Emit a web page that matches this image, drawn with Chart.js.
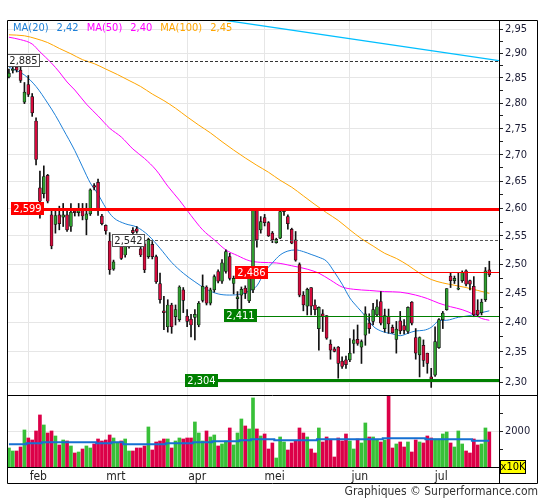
<!DOCTYPE html>
<html lang="nl">
<head>
<meta charset="utf-8">
<title>Koersgrafiek</title>
<script src="https://cdn.jsdelivr.net/npm/chart.js@4.4.1/dist/chart.umd.min.js"></script>
<style>
  html, body { margin: 0; padding: 0; background: #fff; }
  #grafiek { display: block; }
</style>
</head>
<body>
<canvas id="grafiek" width="545" height="500"></canvas>
<script>
// dagkoersen, oudste eerst (125 handelsdagen)
const openK = [
  2.852, 2.865, 2.872, 2.866, 2.802, 2.837, 2.813, 2.765, 2.638, 2.627,
  2.661, 2.588, 2.571, 2.588, 2.584, 2.588, 2.567, 2.595, 2.592, 2.598,
  2.580, 2.590, 2.642, 2.648, 2.586, 2.569, 2.541, 2.491, 2.536, 2.531,
  2.516, 2.531, 2.560, 2.563, 2.527, 2.536, 2.513, 2.535, 2.513, 2.466,
  2.419, 2.392, 2.429, 2.409, 2.404, 2.455, 2.410, 2.405, 2.408, 2.395,
  2.437, 2.460, 2.432, 2.455, 2.487, 2.470, 2.487, 2.513, 2.466, 2.440,
  2.446, 2.458, 2.436, 2.455, 2.598, 2.561, 2.583, 2.574, 2.555, 2.538,
  2.546, 2.594, 2.585, 2.562, 2.543, 2.499, 2.446, 2.427, 2.459, 2.429,
  2.389, 2.414, 2.411, 2.363, 2.355, 2.358, 2.335, 2.337, 2.337, 2.364,
  2.371, 2.358, 2.378, 2.398, 2.401, 2.412, 2.435, 2.389, 2.409, 2.391,
  2.371, 2.402, 2.394, 2.384, 2.434, 2.374, 2.345, 2.361, 2.348, 2.309,
  2.312, 2.357, 2.404, 2.421, 2.479, 2.471, 2.456, 2.471, 2.488, 2.471,
  2.461, 2.420, 2.416, 2.438, 2.490
];
const hoogK = [
  2.868, 2.878, 2.875, 2.874, 2.841, 2.855, 2.819, 2.771, 2.669, 2.679,
  2.663, 2.598, 2.598, 2.604, 2.609, 2.598, 2.609, 2.599, 2.609, 2.609,
  2.609, 2.636, 2.646, 2.654, 2.589, 2.570, 2.556, 2.507, 2.546, 2.534,
  2.536, 2.548, 2.565, 2.567, 2.544, 2.540, 2.546, 2.540, 2.516, 2.484,
  2.444, 2.438, 2.432, 2.429, 2.462, 2.459, 2.421, 2.413, 2.421, 2.435,
  2.481, 2.462, 2.458, 2.481, 2.490, 2.508, 2.525, 2.519, 2.479, 2.452,
  2.460, 2.462, 2.480, 2.600, 2.600, 2.585, 2.589, 2.576, 2.558, 2.546,
  2.596, 2.599, 2.588, 2.564, 2.558, 2.502, 2.452, 2.458, 2.459, 2.438,
  2.426, 2.421, 2.411, 2.370, 2.358, 2.359, 2.342, 2.343, 2.372, 2.387,
  2.395, 2.370, 2.426, 2.414, 2.432, 2.438, 2.452, 2.422, 2.422, 2.395,
  2.401, 2.418, 2.404, 2.426, 2.435, 2.389, 2.375, 2.370, 2.348, 2.323,
  2.392, 2.406, 2.418, 2.457, 2.484, 2.479, 2.484, 2.488, 2.490, 2.472,
  2.478, 2.438, 2.439, 2.494, 2.505
];
const laagK = [
  2.850, 2.860, 2.862, 2.841, 2.799, 2.813, 2.774, 2.681, 2.582, 2.619,
  2.610, 2.527, 2.555, 2.561, 2.567, 2.558, 2.558, 2.586, 2.586, 2.579,
  2.552, 2.587, 2.634, 2.587, 2.570, 2.553, 2.482, 2.489, 2.532, 2.508,
  2.512, 2.528, 2.548, 2.555, 2.513, 2.485, 2.510, 2.509, 2.466, 2.432,
  2.387, 2.383, 2.381, 2.395, 2.401, 2.416, 2.392, 2.375, 2.370, 2.392,
  2.434, 2.429, 2.429, 2.451, 2.467, 2.466, 2.484, 2.472, 2.448, 2.415,
  2.412, 2.440, 2.433, 2.450, 2.530, 2.555, 2.568, 2.549, 2.538, 2.537,
  2.545, 2.587, 2.562, 2.536, 2.505, 2.443, 2.419, 2.412, 2.412, 2.412,
  2.353, 2.384, 2.371, 2.338, 2.350, 2.307, 2.323, 2.323, 2.334, 2.348,
  2.361, 2.331, 2.361, 2.381, 2.395, 2.409, 2.395, 2.383, 2.381, 2.381,
  2.348, 2.380, 2.380, 2.381, 2.395, 2.338, 2.309, 2.326, 2.315, 2.292,
  2.310, 2.356, 2.389, 2.420, 2.459, 2.466, 2.455, 2.468, 2.462, 2.455,
  2.409, 2.409, 2.412, 2.435, 2.478
];
const slotK = [
  2.860, 2.868, 2.866, 2.845, 2.822, 2.817, 2.781, 2.691, 2.613, 2.659,
  2.613, 2.532, 2.587, 2.572, 2.588, 2.561, 2.593, 2.592, 2.596, 2.586,
  2.590, 2.634, 2.639, 2.598, 2.572, 2.559, 2.490, 2.504, 2.542, 2.510,
  2.531, 2.545, 2.556, 2.558, 2.516, 2.490, 2.544, 2.513, 2.469, 2.438,
  2.416, 2.429, 2.392, 2.421, 2.460, 2.437, 2.401, 2.395, 2.413, 2.432,
  2.461, 2.432, 2.455, 2.478, 2.470, 2.502, 2.522, 2.475, 2.475, 2.443,
  2.456, 2.449, 2.476, 2.598, 2.543, 2.576, 2.574, 2.550, 2.543, 2.544,
  2.594, 2.597, 2.572, 2.537, 2.507, 2.446, 2.429, 2.456, 2.427, 2.421,
  2.425, 2.409, 2.373, 2.353, 2.351, 2.331, 2.326, 2.329, 2.348, 2.370,
  2.364, 2.367, 2.414, 2.389, 2.421, 2.426, 2.398, 2.411, 2.397, 2.382,
  2.388, 2.385, 2.386, 2.425, 2.398, 2.348, 2.374, 2.336, 2.331, 2.306,
  2.367, 2.404, 2.415, 2.457, 2.471, 2.475, 2.458, 2.485, 2.465, 2.465,
  2.412, 2.412, 2.434, 2.488, 2.481
];

// volume (x10K) en het gemiddelde volume
const volume = [
  1065, 897, 897, 1121, 2075, 1626, 1514, 2019, 2916, 2355,
  1906, 2019, 1738, 1234, 1514, 1458, 1178, 785, 841, 1009,
  1178, 1065, 1290, 1570, 1458, 1514, 1794, 1626, 1346, 1458,
  1570, 897, 897, 1065, 1065, 1178, 2243, 953, 1402, 1458,
  1570, 1570, 1065, 1458, 1626, 1570, 1626, 1626, 2523, 1906,
  1458, 2019, 1682, 1794, 1178, 1290, 1458, 2187, 1234, 1906,
  2691, 2299, 2131, 3869, 2131, 1738, 1850, 1009, 1346, 505,
  1682, 1402, 953, 1346, 1458, 2187, 1906, 1682, 1009, 785,
  2187, 1402, 1682, 1514, 561, 1626, 1458, 1850, 1458, 1009,
  1570, 1346, 2467, 1682, 1682, 1514, 1402, 1514, 4600, 1065,
  1290, 1402, 1121, 1402, 841, 1514, 1402, 1346, 1738, 1626,
  1570, 1570, 1850, 1962, 1346, 1121, 2019, 1290, 897, 785,
  1570, 1234, 1290, 2187, 1962
];
const volGem = [
  1270, 1270, 1270, 1270, 1270, 1330, 1330, 1330, 1330, 1380,
  1380, 1380, 1380, 1380, 1380, 1380, 1380, 1380, 1380, 1380,
  1380, 1380, 1380, 1330, 1330, 1330, 1330, 1380, 1380, 1380,
  1270, 1270, 1270, 1270, 1270, 1270, 1270, 1270, 1270, 1270,
  1270, 1330, 1330, 1330, 1330, 1330, 1330, 1330, 1380, 1380,
  1380, 1380, 1380, 1440, 1440, 1440, 1440, 1440, 1440, 1440,
  1500, 1500, 1500, 1550, 1550, 1550, 1550, 1550, 1550, 1500,
  1500, 1500, 1500, 1500, 1500, 1500, 1500, 1500, 1500, 1500,
  1550, 1550, 1550, 1550, 1550, 1550, 1550, 1550, 1550, 1550,
  1550, 1550, 1550, 1550, 1550, 1550, 1550, 1610, 1610, 1610,
  1610, 1610, 1610, 1610, 1610, 1610, 1610, 1610, 1550, 1550,
  1550, 1550, 1550, 1550, 1550, 1550, 1550, 1550, 1550, 1550,
  1470, 1470, 1470, 1470, 1470
];

const ma20Dag = [0, 4, 7, 10, 12, 14, 17, 19, 21, 23, 25, 27, 30, 33, 36, 39, 42, 45, 48, 51,
  54, 57, 60, 62, 64, 66, 68, 70, 72, 74, 76, 78, 80, 82, 84, 86, 88, 90, 92, 94,
  96, 99, 101, 103, 105, 107, 109, 111, 113, 116, 119, 122, 124];
const ma20 = [2.872, 2.856, 2.833, 2.800, 2.776, 2.749, 2.708, 2.677, 2.647, 2.626, 2.601, 2.583, 2.572, 2.566, 2.551, 2.528, 2.503, 2.484, 2.469, 2.456,
  2.448, 2.446, 2.448, 2.453, 2.462, 2.486, 2.502, 2.516, 2.523, 2.525, 2.522, 2.517, 2.512, 2.505, 2.486, 2.465, 2.441, 2.425, 2.410, 2.393,
  2.385, 2.380, 2.377, 2.381, 2.385, 2.386, 2.391, 2.402, 2.403, 2.408, 2.411, 2.416, 2.419];
const ma50Dag = [0, 3, 6, 8, 11, 13, 15, 17, 20, 23, 26, 29, 32, 35, 38, 41, 44, 47, 50, 53,
  56, 59, 62, 65, 69, 73, 77, 80, 83, 86, 89, 93, 97, 101, 105, 108, 111, 114, 117, 120, 122, 124];
const ma50 = [2.933, 2.928, 2.919, 2.903, 2.880, 2.862, 2.842, 2.826, 2.798, 2.775, 2.751, 2.734, 2.711, 2.693, 2.671, 2.641, 2.615, 2.587, 2.561, 2.543,
  2.525, 2.515, 2.506, 2.503, 2.502, 2.497, 2.491, 2.484, 2.472, 2.460, 2.456, 2.454, 2.452, 2.451, 2.446, 2.440, 2.432, 2.426, 2.421, 2.413, 2.406, 2.403];
const ma100Dag = [0, 4, 7, 10, 13, 16, 19, 22, 25, 28, 31, 34, 37, 40, 43, 46, 49, 52, 55, 58,
  61, 64, 67, 70, 73, 76, 79, 82, 85, 88, 91, 94, 97, 100, 103, 106, 109, 112, 115, 118, 121, 124];
const ma100 = [2.938, 2.936, 2.930, 2.922, 2.910, 2.899, 2.887, 2.879, 2.868, 2.857, 2.845, 2.833, 2.818, 2.805, 2.790, 2.773, 2.757, 2.742, 2.725, 2.709,
  2.694, 2.680, 2.667, 2.652, 2.639, 2.623, 2.607, 2.592, 2.578, 2.561, 2.545, 2.532, 2.519, 2.510, 2.498, 2.484, 2.473, 2.467, 2.463, 2.459, 2.454, 2.449];

// dalende trendlijn
const trendDag = [30, 126.5];
const trendKoers = [2.999, 2.885];

// horizontale niveaus
const niveaus = [2.885, 2.599, 2.542, 2.486, 2.411, 2.304];

// assen
const maanden = ['feb', 'mrt', 'apr', 'mei', 'jun', 'jul'];
const maandStart = [5, 25, 46, 66, 88, 109];
const koersTicks = [2.30, 2.35, 2.40, 2.45, 2.50, 2.55, 2.60, 2.65, 2.70, 2.75, 2.80, 2.85, 2.90, 2.95];
const tussenTicks = [2.325, 2.375, 2.425, 2.475, 2.525, 2.575, 2.625, 2.675, 2.725, 2.775, 2.825, 2.875, 2.925];
const volumeTicks = [1000, 2000, 3000];

const LETTER = '"DejaVu Sans Condensed", "DejaVu Sans", sans-serif';
const GROEN = '#2f9e2f', ROOD = '#d40a3c';
const VGROEN = '#38c038', VROOD = '#dc0048';
const KLEUR20 = '#1e80d8', KLEUR50 = '#ff00ff', KLEUR100 = '#ffa500';

// stijl per niveau (vanaf = dag waar het label begint)
const niveauStijl = [
  { kleur: '#333', dik: 1, streep: [3, 2], box: '#fff', rand: '#555', tekst: '#222', vanaf: -0.5 },
  { kleur: '#ff0000', dik: 3, box: '#ff0000', tekst: '#fff', vanaf: 0.55 },
  { kleur: '#555', dik: 1, streep: [3, 2], box: '#fff', rand: '#555', tekst: '#222', vanaf: 26.7 },
  { kleur: '#ff0000', dik: 1, box: '#ff0000', tekst: '#fff', vanaf: 58.4 },
  { kleur: '#008000', dik: 1, box: '#008000', tekst: '#fff', vanaf: 55.6 },
  { kleur: '#008000', dik: 3, box: '#008000', tekst: '#fff', vanaf: 45.5 }
];

const stijg = openK.map((o, i) => slotK[i] >= o);
const punten = (dagen, waarden) => dagen.map((d, k) => ({ x: d, y: waarden[k] }));
const komma = (v, n) => v.toFixed(n).replace('.', ',');

const tekenPlugin = {
  id: 'teken',
  beforeDatasetDraw(chart, args) {
    // elk paneel knipt op zijn eigen schaal
    const s = chart.scales[args.meta.yAxisID], a = chart.chartArea, ctx = chart.ctx;
    ctx.save();
    ctx.beginPath();
    ctx.rect(a.left, s.top, a.right - a.left, s.bottom - s.top);
    ctx.clip();
  },
  afterDatasetDraw(chart) {
    chart.ctx.restore();
  },
  afterDatasetsDraw(chart) {
    const ctx = chart.ctx, xs = chart.scales.x, ys = chart.scales.y, a = chart.chartArea;
    ctx.save();
    ctx.font = '11px ' + LETTER;
    niveaus.forEach((n, k) => {
      const st = niveauStijl[k];
      const py = ys.getPixelForValue(n);
      const tekst = komma(n, 3);
      const bx = Math.round(Math.max(a.left, xs.getPixelForValue(st.vanaf)));
      const bw = Math.ceil(ctx.measureText(tekst).width) + 4, bh = 13;
      const ly = st.dik % 2 === 1 ? Math.round(py) + 0.5 : Math.round(py);
      ctx.beginPath();
      ctx.setLineDash(st.streep || []);
      ctx.strokeStyle = st.kleur;
      ctx.lineWidth = st.dik;
      ctx.moveTo(bx + bw, ly);
      ctx.lineTo(a.right, ly);
      ctx.stroke();
      ctx.setLineDash([]);
      const by = Math.round(py - bh / 2);
      ctx.fillStyle = st.box;
      ctx.fillRect(bx, by, bw, bh);
      if (st.rand) {
        ctx.strokeStyle = st.rand;
        ctx.lineWidth = 1;
        ctx.strokeRect(bx + 0.5, by + 0.5, bw - 1, bh - 1);
      }
      ctx.fillStyle = st.tekst;
      ctx.textAlign = 'center';
      ctx.textBaseline = 'middle';
      ctx.fillText(tekst, bx + bw / 2, by + bh / 2 + 0.5);
    });
    ctx.restore();
  },
  afterDraw(chart) {
    const ctx = chart.ctx, a = chart.chartArea, xs = chart.scales.x;
    const ys = chart.scales.y, yv = chart.scales.yv;
    const L = a.left + 0.5, T = a.top + 0.5, R = ys.right - 0.5, B = Math.round(xs.bottom) - 0.5;
    const AX = Math.round(ys.left) + 0.5, SEP = Math.round(yv.top) + 0.5;
    ctx.save();
    ctx.strokeStyle = '#000';
    ctx.lineWidth = 1;
    ctx.beginPath();
    ctx.rect(L, T, R - L, B - T);
    ctx.moveTo(L, SEP); ctx.lineTo(R, SEP);
    ctx.moveTo(AX, T); ctx.lineTo(AX, B);
    ctx.stroke();

    // x10K
    const kx = Math.round(ys.left) + 1, ky = Math.round(a.bottom) - 7;
    ctx.fillStyle = '#ffff00';
    ctx.fillRect(kx, ky, 26, 14);
    ctx.strokeRect(kx + 0.5, ky + 0.5, 25, 13);
    ctx.fillStyle = '#000';
    ctx.font = '11px ' + LETTER;
    ctx.textAlign = 'center';
    ctx.textBaseline = 'middle';
    ctx.fillText('x10K', kx + 13, ky + 7.5);

    // legenda van de gemiddelden
    ctx.textAlign = 'left';
    let x = a.left + 6;
    const ly = a.top + 8;
    [['MA(20)', ma20, KLEUR20], ['MA(50)', ma50, KLEUR50], ['MA(100)', ma100, KLEUR100]].forEach(([naam, reeks, kleur]) => {
      ctx.fillStyle = kleur;
      ctx.fillText(naam, x, ly);
      x += ctx.measureText(naam).width + 8;
      const w = komma(reeks[reeks.length - 1], 2);
      ctx.fillText(w, x, ly);
      x += ctx.measureText(w).width + 8;
    });

    // bron
    ctx.fillStyle = '#333';
    ctx.font = '12px ' + LETTER;
    ctx.textAlign = 'right';
    ctx.fillText('Graphiques © Surperformance.com', ys.right, 492);
    ctx.restore();
  }
};

new Chart(document.getElementById('grafiek'), {
  type: 'bar',
  data: {
    datasets: [
      {
        label: 'lont',
        data: hoogK.map((h, i) => ({ x: i, y: [laagK[i], h] })),
        backgroundColor: '#111',
        barThickness: 1,
        grouped: false,
        yAxisID: 'y',
        order: 1
      },
      {
        label: 'koers',
        data: openK.map((o, i) => ({ x: i, y: [o, slotK[i]] })),
        backgroundColor: stijg.map(s => s ? GROEN : ROOD),
        borderColor: '#111',
        borderWidth: 0.7,
        borderSkipped: false,
        barThickness: 3,
        minBarLength: 1,
        grouped: false,
        yAxisID: 'y',
        order: 0
      },
      {
        label: 'volume',
        data: volume.map((v, i) => ({ x: i, y: v })),
        backgroundColor: stijg.map(s => s ? VGROEN : VROOD),
        barThickness: 3,
        grouped: false,
        yAxisID: 'yv',
        order: 4
      },
      {
        type: 'line',
        label: 'gem. volume',
        data: volGem.map((v, i) => ({ x: i, y: v })),
        borderColor: '#1670d2',
        borderWidth: 2,
        pointRadius: 0,
        stepped: 'middle',
        yAxisID: 'yv',
        order: 3
      },
      {
        type: 'line', label: 'MA(20)', data: punten(ma20Dag, ma20),
        borderColor: KLEUR20, borderWidth: 1, pointRadius: 0,
        cubicInterpolationMode: 'monotone', yAxisID: 'y', order: 2
      },
      {
        type: 'line', label: 'MA(50)', data: punten(ma50Dag, ma50),
        borderColor: KLEUR50, borderWidth: 1, pointRadius: 0,
        cubicInterpolationMode: 'monotone', yAxisID: 'y', order: 2
      },
      {
        type: 'line', label: 'MA(100)', data: punten(ma100Dag, ma100),
        borderColor: KLEUR100, borderWidth: 1, pointRadius: 0,
        cubicInterpolationMode: 'monotone', yAxisID: 'y', order: 2
      },
      {
        type: 'line', label: 'trend', data: punten(trendDag, trendKoers),
        borderColor: '#00bfff', borderWidth: 1.3, pointRadius: 0,
        yAxisID: 'y', order: 2
      }
    ]
  },
  options: {
    responsive: false,
    animation: false,
    events: [],
    layout: { padding: { left: 7, top: 20, right: 7, bottom: 16 } },
    plugins: { legend: { display: false }, tooltip: { enabled: false } },
    scales: {
      x: {
        type: 'linear',
        min: -0.5,
        max: 126.5,
        offset: false,
        afterBuildTicks: s => { s.ticks = maandStart.map(v => ({ value: v })); },
        afterFit: s => { s.height = 17; },
        ticks: {
          autoSkip: false, maxRotation: 0, minRotation: 0, padding: 3, labelOffset: 10,
          color: '#222', font: { family: LETTER, size: 12 },
          callback: (v, i) => maanden[i]
        },
        grid: { color: '#e6e6e6', drawTicks: false, offset: false },
        border: { display: true, color: '#000' }
      },
      y: {
        type: 'logarithmic',
        position: 'right',
        stack: 'panelen',
        stackWeight: 375,
        min: 2.2798,
        max: 2.9688,
        afterBuildTicks: s => {
          s.ticks = koersTicks.concat(tussenTicks).sort((p, q) => p - q).map(v => ({ value: v }));
        },
        afterFit: s => { s.width = 39; },
        ticks: {
          autoSkip: false, padding: 2, color: '#1a1a33', font: { family: LETTER, size: 11 },
          callback: v => koersTicks.includes(v) ? komma(v, 2) : ''
        },
        grid: {
          color: c => (c.tick && koersTicks.includes(c.tick.value)) ? '#e6e6e6' : 'rgba(0,0,0,0)',
          tickColor: '#222', tickLength: 4
        },
        border: { display: true, color: '#000' }
      },
      yv: {
        type: 'linear',
        position: 'right',
        stack: 'panelen',
        stackWeight: 72,
        min: 0,
        max: 4034,
        afterBuildTicks: s => { s.ticks = volumeTicks.map(v => ({ value: v })); },
        afterFit: s => { s.width = 39; },
        ticks: {
          autoSkip: false, padding: 2, color: '#1a1a33', font: { family: LETTER, size: 11 },
          callback: v => v === 2000 ? String(v) : ''
        },
        grid: {
          color: c => (c.tick && c.tick.value === 2000) ? '#e6e6e6' : 'rgba(0,0,0,0)',
          tickColor: '#222', tickLength: 4
        },
        border: { display: true, color: '#000' }
      }
    }
  },
  plugins: [tekenPlugin]
});
</script>
</body>
</html>
